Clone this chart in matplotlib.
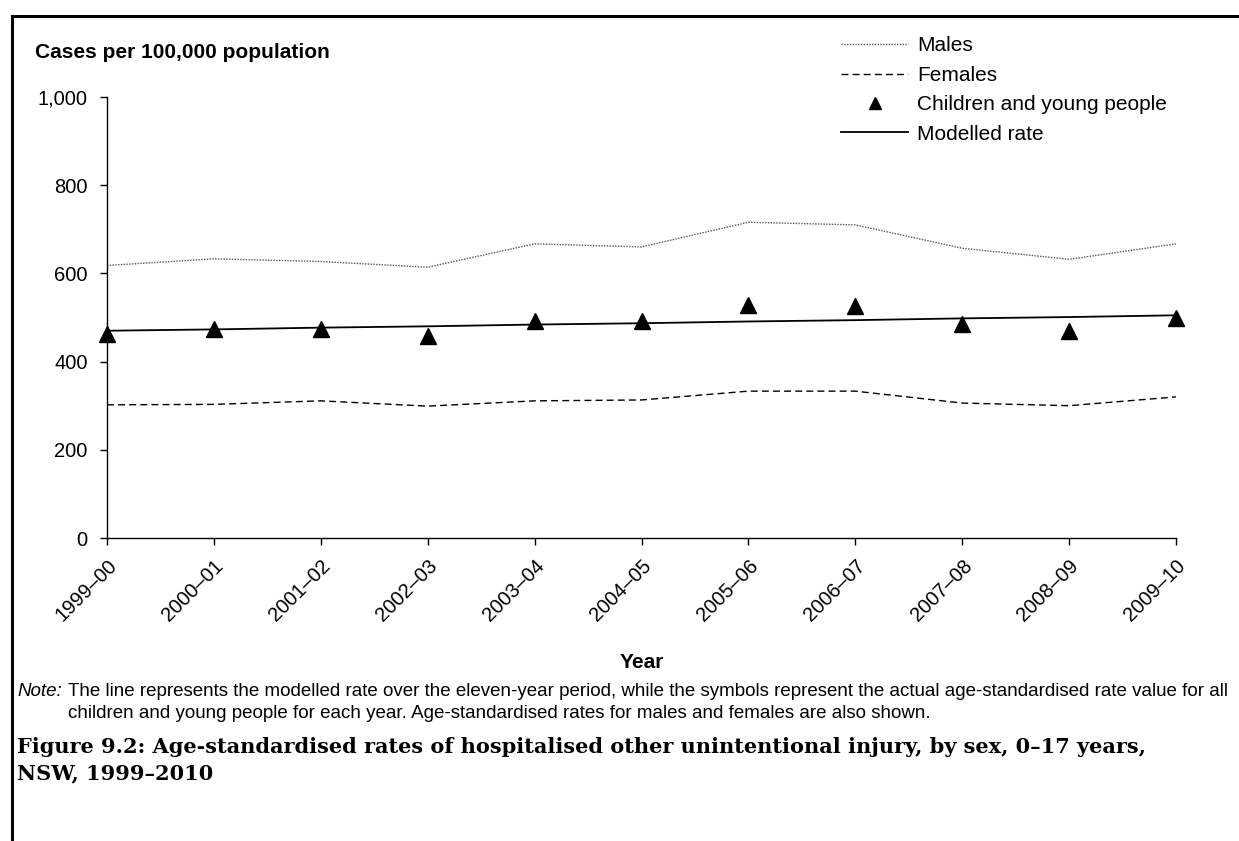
import matplotlib
matplotlib.use("Agg")
import matplotlib.pyplot as plt
from matplotlib.lines import Line2D
from matplotlib.ticker import FuncFormatter

# values
years = ["1999–00", "2000–01", "2001–02", "2002–03", "2003–04", "2004–05",
         "2005–06", "2006–07", "2007–08", "2008–09", "2009–10"]
males = [618, 633, 627, 614, 667, 660, 716, 710, 657, 632, 667]
females = [302, 303, 311, 299, 311, 313, 333, 333, 306, 300, 320]
children = [462, 473, 473, 459, 492, 491, 529, 526, 486, 470, 498]
modelled = [470, 473, 477, 480, 484, 487, 491, 494, 498, 501, 505]

plt.rcParams["font.family"] = ["Liberation Sans", "DejaVu Sans"]

W, H = 1239, 841
fig = plt.figure(figsize=(W / 100, H / 100), dpi=100)

# axes box in pixels: left 107, right 1176, top (1000) 97, bottom (0) 538
ax = fig.add_axes([107 / W, 1 - 538 / H, (1176 - 107) / W, (538 - 97) / H])

x = list(range(len(years)))
ax.plot(x, males, color="#555555", lw=1.0, linestyle=(0, (1, 1)), label="Males")
ax.plot(x, females, color="black", lw=1.0, linestyle=(0, (5, 3)), label="Females")
ax.plot(x, children, linestyle="none", marker="^", ms=11, color="black",
        label="Children and young people", clip_on=False, zorder=4)
ax.plot(x, modelled, color="black", lw=1.3, label="Modelled rate")

ax.set_xlim(0, 10)
ax.set_ylim(0, 1000)
ax.set_yticks(range(0, 1001, 200))
ax.yaxis.set_major_formatter(FuncFormatter(lambda v, p: f"{int(v):,}"))
ax.set_xticks(x)
ax.set_xticklabels(years, rotation=45, ha="right", va="top",
                   rotation_mode="anchor")
ax.tick_params(axis="both", labelsize=14.5, length=5, width=1, direction="out")
ax.tick_params(axis="y", pad=9)
ax.tick_params(axis="x", pad=8)
for s in ["top", "right"]:
    ax.spines[s].set_visible(False)
for s in ["left", "bottom"]:
    ax.spines[s].set_linewidth(1)

ax.set_xlabel("Year", fontsize=15, fontweight="bold", labelpad=20)

fig.text(35 / W, 1 - 52 / H, "Cases per 100,000 population", fontsize=15,
         fontweight="bold", va="center", ha="left")

leg = ax.legend(loc="upper left", bbox_to_anchor=(831 / W, 1 - 26 / H),
                bbox_transform=fig.transFigure, frameon=False, fontsize=15,
                handlelength=3.2, handletextpad=0.43, labelspacing=0.5,
                borderpad=0, markerscale=0.75)

# note and caption
fig.text(17 / W, 1 - 692 / H, "Note:", fontsize=13.5, style="italic", va="center")
fig.text(68 / W, 1 - 692 / H,
         "The line represents the modelled rate over the eleven-year period, while the "
         "symbols represent the actual age-standardised rate value for all",
         fontsize=13.5, va="center")
fig.text(68 / W, 1 - 714 / H,
         "children and young people for each year. Age-standardised rates for males "
         "and females are also shown.", fontsize=13.5, va="center")
fig.text(17 / W, 1 - 747 / H,
         "Figure 9.2: Age-standardised rates of hospitalised other unintentional "
         "injury, by sex, 0–17 years,", fontsize=15, fontweight="bold",
         family=["DejaVu Serif"], va="center")
fig.text(17 / W, 1 - 773 / H, "NSW, 1999–2010", fontsize=15, fontweight="bold",
         family=["DejaVu Serif"], va="center")

# page frame: top and left rules
fig.add_artist(Line2D([12 / W, 1], [1 - 16 / H, 1 - 16 / H], color="black", lw=2.2,
                      transform=fig.transFigure))
fig.add_artist(Line2D([12 / W, 12 / W], [1 - 16 / H, 0], color="black", lw=2.2,
                      transform=fig.transFigure))

fig.savefig("out.png", dpi=100)
